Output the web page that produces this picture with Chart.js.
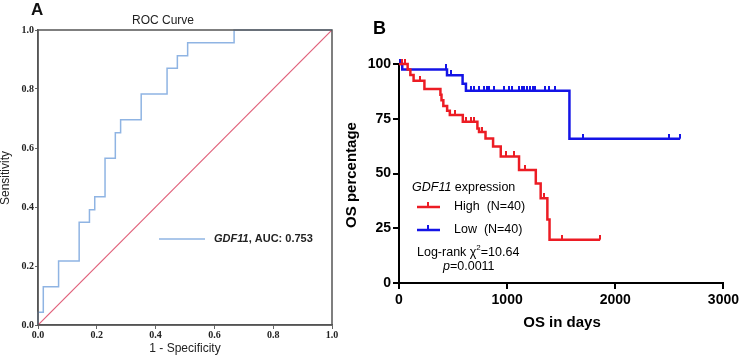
<!DOCTYPE html>
<html lang="en">
<head>
<meta charset="UTF-8">
<title>GDF11 ROC and survival</title>
<script src="https://cdn.jsdelivr.net/npm/chart.js"></script>
<style>
  body { margin: 0; background: #fff; width: 742px; height: 363px; overflow: hidden; position: relative; }
  #boxA { position: absolute; left: 0; top: 0; width: 360px; height: 363px; }
  #boxB { position: absolute; left: 340px; top: 0; width: 402px; height: 363px; }
</style>
</head>
<body>
<div id="boxA"><canvas id="rocChart"></canvas></div>
<div id="boxB"><canvas id="kmChart"></canvas></div>
<script>
// ---- panel A : ROC curve (corner points of the step curve)
const rocFpr = [0, 0, 0.018, 0.07, 0.14, 0.175, 0.193, 0.228, 0.263, 0.281, 0.351, 0.439, 0.474, 0.509, 0.667, 1];
const rocTpr = [0, 0.043, 0.13, 0.217, 0.348, 0.391, 0.435, 0.565, 0.652, 0.696, 0.783, 0.87, 0.913, 0.957, 1, 1];
const refLine = [0, 1];

// ---- panel B : Kaplan-Meier, days where survival drops and value after the drop
const highDays = [0, 80, 105, 135, 235, 383, 393, 410, 445, 470, 590, 725, 740, 800, 870, 941, 1110, 1265, 1310, 1372, 1392, 1860];
const highSurv = [100, 97.5, 95, 92.4, 88.6, 86.0, 83.4, 80.8, 78.6, 76.7, 73.6, 70.6, 69.0, 66.0, 62.3, 57.8, 51.6, 45.4, 38.7, 29.0, 19.8, 19.8];
const highCensor = [25, 58, 196, 520, 619, 665, 696, 772, 985, 1063, 1164, 1339, 1507, 1860];

const lowDays = [0, 30, 444, 588, 619, 1576, 2600];
const lowSurv = [100, 97.5, 94.9, 91.0, 87.8, 65.9, 65.9];
const lowCensor = [12, 435, 481, 665, 695, 741, 787, 818, 833, 879, 971, 1017, 1048, 1109, 1134, 1158, 1180, 1207, 1238, 1256, 1354, 1384, 1446, 1697, 2494, 2600];

const groupLabels = ['High  (N=40)', 'Low  (N=40)'];
const rocLabel = ['GDF11', ', AUC: 0.753'];

const RED = '#ec1c24';
const BLUE = '#1414e6';
const SANS = '"Liberation Sans", Arial, sans-serif';

Chart.defaults.font.family = SANS;
Chart.defaults.animation = false;

function pts(xs, ys) {
  return xs.map((x, i) => ({ x: x, y: ys[i] }));
}

// survival value at day t
function survAt(days, surv, t) {
  let v = surv[0];
  for (let i = 0; i < days.length; i++) {
    if (days[i] <= t) v = surv[i];
  }
  return v;
}

// small upward tick used for censored cases
function tickMark(color) {
  const c = document.createElement('canvas');
  c.width = 2; c.height = 10;
  const g = c.getContext('2d');
  g.fillStyle = color;
  g.fillRect(0, 0, 2, 5);
  return c;
}

// draws pieces of text one after another, some italic
function drawRuns(ctx, runs, x, y, size, weight) {
  runs.forEach(r => {
    ctx.font = (r.it ? 'italic ' : '') + (weight || 'normal') + ' ' + size + 'px ' + SANS;
    ctx.fillText(r.t, x, y);
    x += ctx.measureText(r.t).width;
  });
  return x;
}

const rocExtras = {
  id: 'rocExtras',
  afterDraw(chart) {
    const ctx = chart.ctx, a = chart.chartArea;
    ctx.save();
    ctx.strokeStyle = '#555';
    ctx.lineWidth = 1.5;
    ctx.strokeRect(a.left, a.top, a.right - a.left, a.bottom - a.top);

    ctx.fillStyle = '#111';
    ctx.textBaseline = 'alphabetic';
    ctx.font = 'bold 17px ' + SANS;
    ctx.fillText('A', 31, 15);

    ctx.fillStyle = '#222';
    ctx.textAlign = 'center';
    ctx.textBaseline = 'middle';
    ctx.font = '12px ' + SANS;
    ctx.fillText('ROC Curve', 163, 21);
    ctx.fillText('1 - Specificity', 185, 349);

    ctx.save();
    ctx.translate(6, 178);
    ctx.rotate(-Math.PI / 2);
    ctx.fillText('Sensitivity', 0, 0);
    ctx.restore();

    // legend
    ctx.strokeStyle = '#8fb4e3';
    ctx.lineWidth = 1.5;
    ctx.beginPath();
    ctx.moveTo(159, 239);
    ctx.lineTo(205, 239);
    ctx.stroke();
    ctx.textAlign = 'left';
    ctx.fillStyle = '#222';
    drawRuns(ctx, [{ t: rocLabel[0], it: true }, { t: rocLabel[1] }], 214, 239, 11, 'bold');
    ctx.restore();
  }
};

const tickFont = { family: '"Liberation Serif", "Times New Roman", serif', weight: 'bold', size: 10 };

new Chart(document.getElementById('rocChart'), {
  type: 'line',
  data: {
    datasets: [
      {
        data: pts(refLine, refLine),
        borderColor: '#e0607a',
        borderWidth: 1.2,
        pointRadius: 0
      },
      {
        data: pts(rocFpr, rocTpr),
        borderColor: '#8fb4e3',
        borderWidth: 1.5,
        stepped: true,
        pointRadius: 0,
        clip: 4
      }
    ]
  },
  options: {
    responsive: true,
    maintainAspectRatio: false,
    layout: { padding: { left: 0, top: 30, right: 28, bottom: 0 } },
    plugins: { legend: { display: false }, tooltip: { enabled: false } },
    scales: {
      x: {
        type: 'linear', min: 0, max: 1,
        ticks: { stepSize: 0.2, padding: 0, maxRotation: 0, color: '#222', font: tickFont, callback: v => v.toFixed(1) },
        grid: { drawOnChartArea: false, tickLength: 4, color: '#666' },
        border: { color: '#555', width: 1.5 },
        afterFit(s) { s.height = 38; }
      },
      y: {
        type: 'linear', min: 0, max: 1,
        ticks: { stepSize: 0.2, padding: 1, color: '#222', font: tickFont, callback: v => v.toFixed(1) },
        grid: { drawOnChartArea: false, tickLength: 3, color: '#666' },
        border: { color: '#555', width: 1.5 },
        afterFit(s) { s.width = 38; }
      }
    }
  },
  plugins: [rocExtras]
});

// ---- panel B
const OX = 340;  // left of canvas B in the page

const kmExtras = {
  id: 'kmExtras',
  afterDraw(chart) {
    const ctx = chart.ctx;
    ctx.save();
    ctx.fillStyle = '#000';
    ctx.font = 'bold 18px ' + SANS;
    ctx.fillText('B', 373 - OX, 34);

    ctx.textAlign = 'center';
    ctx.textBaseline = 'middle';
    ctx.font = 'bold 15px ' + SANS;
    ctx.fillText('OS in days', 562 - OX, 323);
    ctx.save();
    ctx.translate(352 - OX, 175);
    ctx.rotate(-Math.PI / 2);
    ctx.fillText('OS percentage', 0, 0);
    ctx.restore();

    ctx.textAlign = 'left';
    drawRuns(ctx, [{ t: 'GDF11', it: true }, { t: ' expression' }], 412 - OX, 188, 12.5);

    const rows = [[RED, 207], [BLUE, 230]];
    rows.forEach((r, i) => {
      ctx.strokeStyle = r[0];
      ctx.fillStyle = r[0];
      ctx.lineWidth = 2.5;
      ctx.beginPath();
      ctx.moveTo(417 - OX, r[1]);
      ctx.lineTo(440 - OX, r[1]);
      ctx.stroke();
      ctx.fillRect(427 - OX, r[1] - 5, 2, 5);
      ctx.fillStyle = '#000';
      ctx.font = '12.5px ' + SANS;
      ctx.fillText(groupLabels[i], 454 - OX, r[1]);
    });

    let x = drawRuns(ctx, [{ t: 'Log-rank ' }, { t: '\u03c7' }], 417 - OX, 253, 12.5);
    ctx.font = '8px ' + SANS;
    ctx.fillText('2', x, 248);
    x += ctx.measureText('2').width;
    drawRuns(ctx, [{ t: '=10.64' }], x, 253, 12.5);
    drawRuns(ctx, [{ t: 'p', it: true }, { t: '=0.0011' }], 443 - OX, 267, 12.5);
    ctx.restore();
  }
};

function censorPoints(days, surv, cens) {
  return cens.map(t => ({ x: t, y: survAt(days, surv, t) }));
}

const bTicks = { color: '#000', font: { weight: 'bold', size: 14 }, callback: v => String(v) };

new Chart(document.getElementById('kmChart'), {
  type: 'line',
  data: {
    datasets: [
      {
        data: pts(highDays, highSurv),
        borderColor: RED, borderWidth: 2.5, stepped: true, pointRadius: 0, clip: 8
      },
      {
        data: pts(lowDays, lowSurv),
        borderColor: BLUE, borderWidth: 2.5, stepped: true, pointRadius: 0, clip: 8
      },
      {
        data: censorPoints(highDays, highSurv, highCensor),
        showLine: false, pointStyle: tickMark(RED), pointRadius: 5, clip: 8
      },
      {
        data: censorPoints(lowDays, lowSurv, lowCensor),
        showLine: false, pointStyle: tickMark(BLUE), pointRadius: 5, clip: 8
      }
    ]
  },
  options: {
    responsive: true,
    maintainAspectRatio: false,
    layout: { padding: { left: 0, top: 64, right: 16, bottom: 0 } },
    plugins: { legend: { display: false }, tooltip: { enabled: false } },
    scales: {
      x: {
        type: 'linear', min: 0, max: 3000,
        ticks: Object.assign({ stepSize: 1000, padding: 3, maxRotation: 0 }, bTicks),
        grid: { drawOnChartArea: false, tickLength: 6, color: '#000', lineWidth: 2 },
        border: { color: '#000', width: 2 },
        afterFit(s) { s.height = 80; }
      },
      y: {
        type: 'linear', min: 0, max: 100,
        ticks: Object.assign({ stepSize: 25, padding: 2 }, bTicks),
        grid: { drawOnChartArea: false, tickLength: 6, color: '#000', lineWidth: 2 },
        border: { color: '#000', width: 2 },
        afterFit(s) { s.width = 59; }
      }
    }
  },
  plugins: [kmExtras]
});
</script>
</body>
</html>
